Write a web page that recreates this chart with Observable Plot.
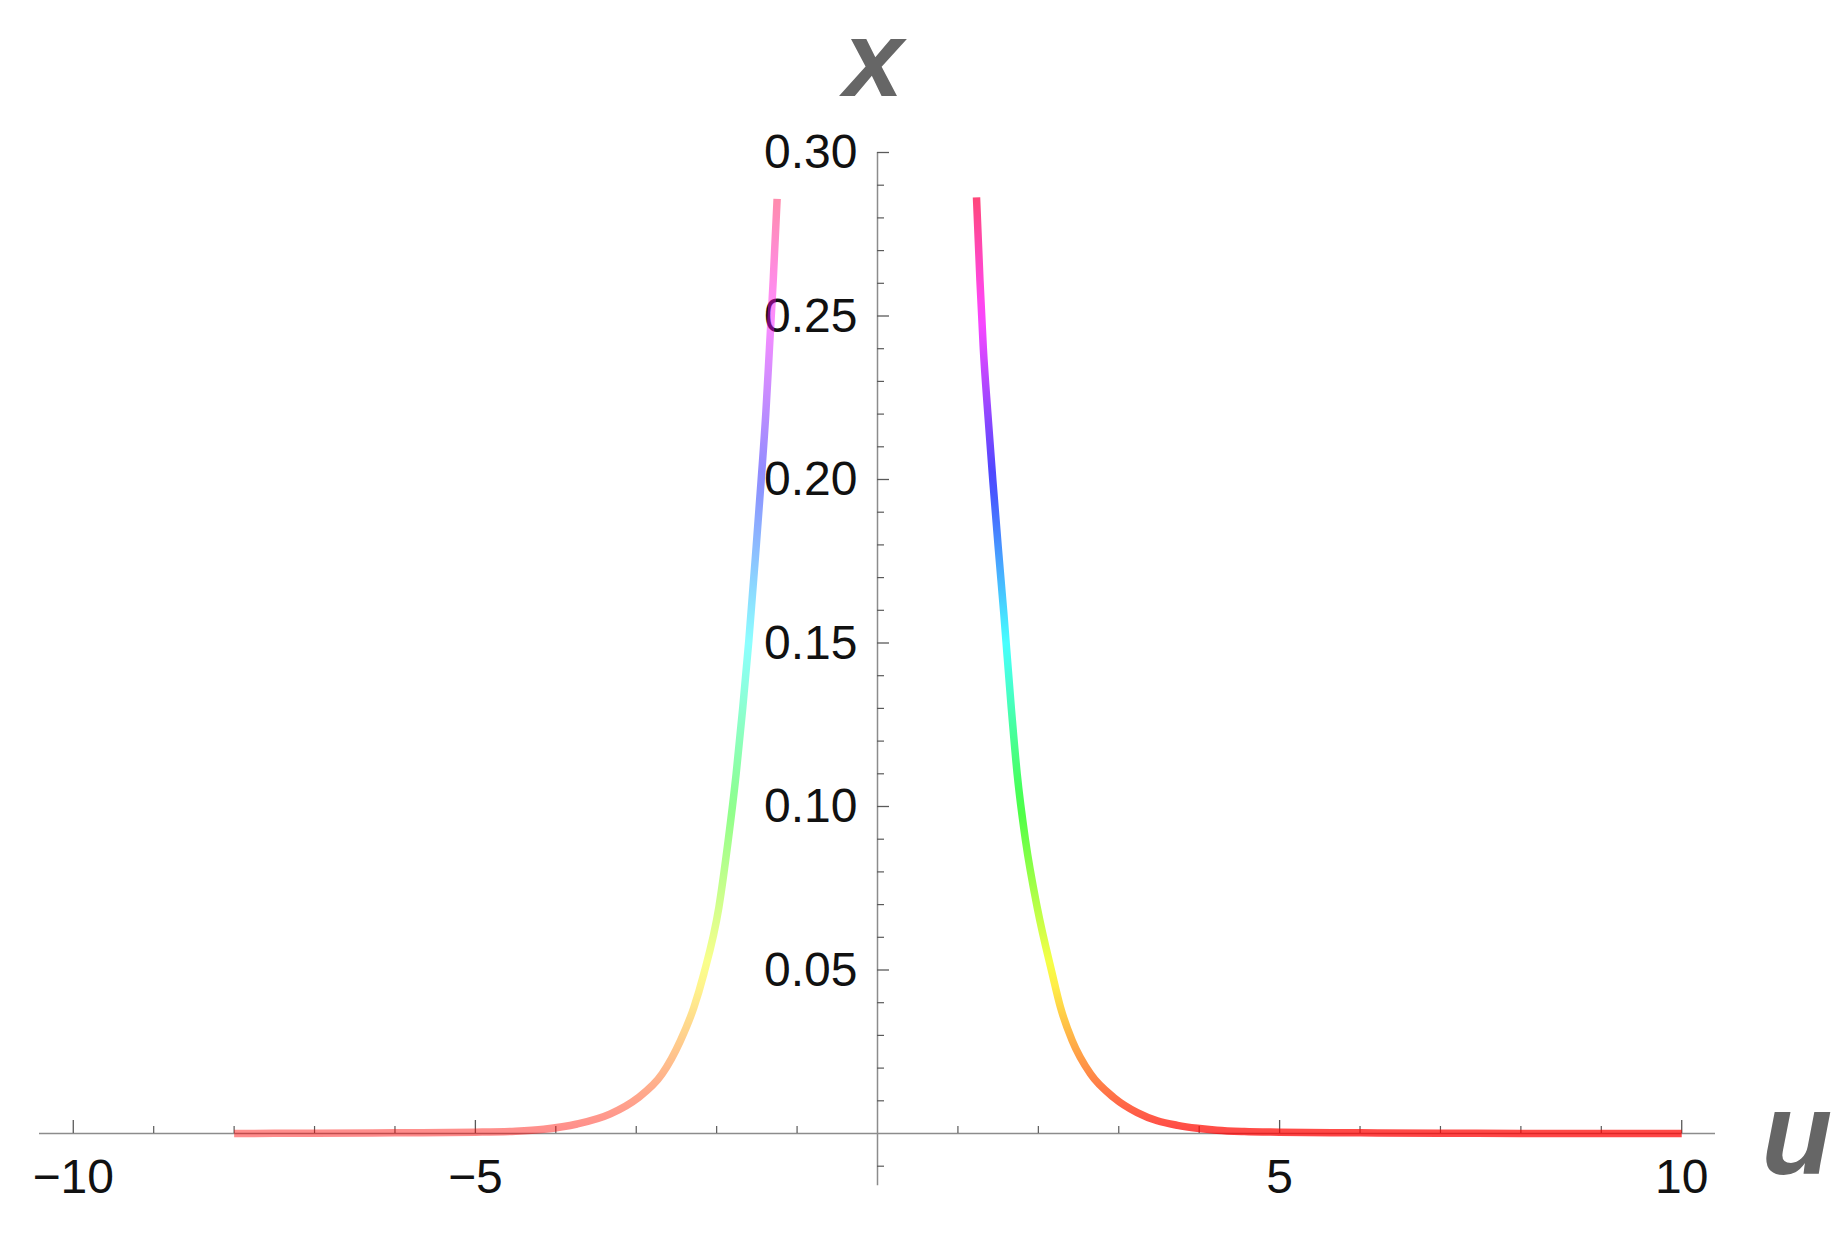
<!DOCTYPE html>
<html>
<head>
<meta charset="utf-8">
<script src="https://cdn.jsdelivr.net/npm/d3@7"></script>
<script src="https://cdn.jsdelivr.net/npm/@observablehq/plot@0.6"></script>
<style>
  html, body { margin: 0; padding: 0; background: #ffffff; }
  #chart svg { display: block; }
</style>
</head>
<body>
<div id="chart"></div>
<script>
// ---- data ----
const uRight = [1.231, 1.274, 1.315, 1.372, 1.434, 1.501, 1.571, 1.663, 1.737, 1.841, 1.986, 2.173, 2.276, 2.421, 2.649, 2.939, 3.230, 3.479, 3.730, 3.976, 4.220, 4.560, 5.0, 6.0, 7.0, 8.0, 9.0, 10.0];
const xRight = [0.2863, 0.2608, 0.2404, 0.2201, 0.1997, 0.1793, 0.1589, 0.1303, 0.1099, 0.0895, 0.0691, 0.0488, 0.0385, 0.0284, 0.0182, 0.0110, 0.0064, 0.0039, 0.0025, 0.0016, 0.0010, 0.0006, 0.0004, 0.0002, 0.0001, 0, 0, 0];

const uLeft = [-8.0, -7.0, -6.0, -5.0, -4.5, -4.150, -3.735, -3.321, -2.989, -2.678, -2.450, -2.284, -2.160, -1.973, -1.857, -1.758, -1.675, -1.600, -1.509, -1.447, -1.389, -1.343, -1.297, -1.248];
const xLeft = [0, 0.0001, 0.0002, 0.0004, 0.0007, 0.0013, 0.0029, 0.0060, 0.0107, 0.0182, 0.0284, 0.0385, 0.0488, 0.0691, 0.0895, 0.1099, 0.1303, 0.1507, 0.1793, 0.1997, 0.2201, 0.2404, 0.2608, 0.2858];

const xMajorTicks = [-10, -5, 5, 10];
const xTickLabels = ["−10", "−5", "5", "10"];
const xMinorTicks = [-9, -8, -7, -6, -4, -3, -2, -1, 1, 2, 3, 4, 6, 7, 8, 9];

const yMajorTicks = [0.05, 0.10, 0.15, 0.20, 0.25, 0.30];
const yTickLabels = ["0.05", "0.10", "0.15", "0.20", "0.25", "0.30"];
const yMinorTicks = [-0.01, 0.01, 0.02, 0.03, 0.04, 0.06, 0.07, 0.08, 0.09, 0.11, 0.12, 0.13, 0.14, 0.16, 0.17, 0.18, 0.19, 0.21, 0.22, 0.23, 0.24, 0.26, 0.27, 0.28, 0.29];

const uDomain = [-10.42, 10.42];
const xDomain = [0, 0.30];
const yAxisBottom = -0.016;
const hueDomain = [0, 0.30];   // colour (hue) runs with the value of x

const xAxisTitle = "u";
const yAxisTitle = "x";

// ---- layout ----
const W = 1847, H = 1243;
const mL = 39, mR = 132, mT = 152, mB = 110;
const frameH = H - mT - mB;
const pxPerU = (W - mL - mR) / (uDomain[1] - uDomain[0]);

const left = uLeft.map((u, i) => ({u, x: xLeft[i]}));
const right = uRight.map((u, i) => ({u, x: xRight[i]}));

const font = "'Liberation Sans', Arial, Helvetica, sans-serif";
const axisColor = "#8c8c8c";
const tickColor = "#5a5a5a";
const hue = (t) => d3.hsl(t * 360, 1, 0.5).formatHex();

const chart = Plot.plot({
  width: W,
  height: H,
  marginLeft: mL,
  marginRight: mR,
  marginTop: mT,
  marginBottom: mB,
  style: {fontFamily: font, background: "#ffffff", overflow: "visible"},
  x: {domain: uDomain, axis: null},
  y: {domain: xDomain, axis: null},
  marks: [
    // axis lines
    Plot.ruleY([0], {y: d => d, x1: () => uDomain[0], x2: () => uDomain[1], stroke: axisColor, strokeWidth: 1.5}),
    Plot.ruleX([0], {x: d => d, y1: () => yAxisBottom, y2: () => xDomain[1], stroke: axisColor, strokeWidth: 1.5}),
    // x ticks (pointing up from the axis)
    Plot.ruleX(xMajorTicks, {x: d => d, insetTop: frameH - 13, stroke: tickColor, strokeWidth: 1.3}),
    Plot.ruleX(xMinorTicks, {x: d => d, insetTop: frameH - 7, stroke: tickColor, strokeWidth: 1.2}),
    // y ticks (pointing right from the axis)
    Plot.ruleY(yMajorTicks, {y: d => d, x1: () => 0, x2: () => uDomain[1], insetRight: uDomain[1] * pxPerU - 12, stroke: tickColor, strokeWidth: 1.3}),
    Plot.ruleY(yMinorTicks, {y: d => d, x1: () => 0, x2: () => uDomain[1], insetRight: uDomain[1] * pxPerU - 7, stroke: tickColor, strokeWidth: 1.2}),
    // tick labels
    Plot.text(xMajorTicks, {x: d => d, y: () => 0, text: (d, i) => xTickLabels[i], lineAnchor: "bottom", dy: 59, fontSize: 48, fill: "#111", fontFamily: font}),
    Plot.text(yMajorTicks, {x: () => 0, y: d => d, text: (d, i) => yTickLabels[i], textAnchor: "end", lineAnchor: "bottom", dx: -20, dy: 15.5, fontSize: 48, fill: "#111", fontFamily: font}),
    // curves (hue gradient along the vertical value)
    Plot.line(left, {x: "u", y: "x", stroke: "url(#hueGrad)", strokeWidth: 7.5, strokeOpacity: 0.45, strokeLinecap: "butt", curve: "monotone-x"}),
    Plot.line(right, {x: "u", y: "x", stroke: "url(#hueGrad)", strokeWidth: 7.5, strokeOpacity: 0.72, strokeLinecap: "butt", curve: "monotone-x"}),
    // axis titles
    Plot.text([yAxisTitle], {x: () => 0, y: () => xDomain[1], text: d => d, lineAnchor: "bottom", dx: -4, dy: -57, fontSize: 107, fontWeight: "bold", fontStyle: "italic", fill: "#666666", fontFamily: font}),
    Plot.text([xAxisTitle], {x: () => uDomain[1], y: () => 0, text: d => d, textAnchor: "start", lineAnchor: "bottom", dx: 46, dy: 40, fontSize: 116, fontWeight: "bold", fontStyle: "italic", fill: "#666666", fontFamily: font})
  ]
});

// vertical hue gradient placed with the plot's own y scale
const yScale = chart.scale("y");
const defs = d3.select(chart).insert("defs", ":first-child");
const grad = defs.append("linearGradient")
  .attr("id", "hueGrad")
  .attr("gradientUnits", "userSpaceOnUse")
  .attr("x1", 0).attr("x2", 0)
  .attr("y1", yScale.apply(hueDomain[0]))
  .attr("y2", yScale.apply(hueDomain[1]));
d3.range(0, 1.0001, 0.025).forEach(t => {
  grad.append("stop").attr("offset", t).attr("stop-color", hue(t));
});

document.getElementById("chart").appendChild(chart);
</script>
</body>
</html>
